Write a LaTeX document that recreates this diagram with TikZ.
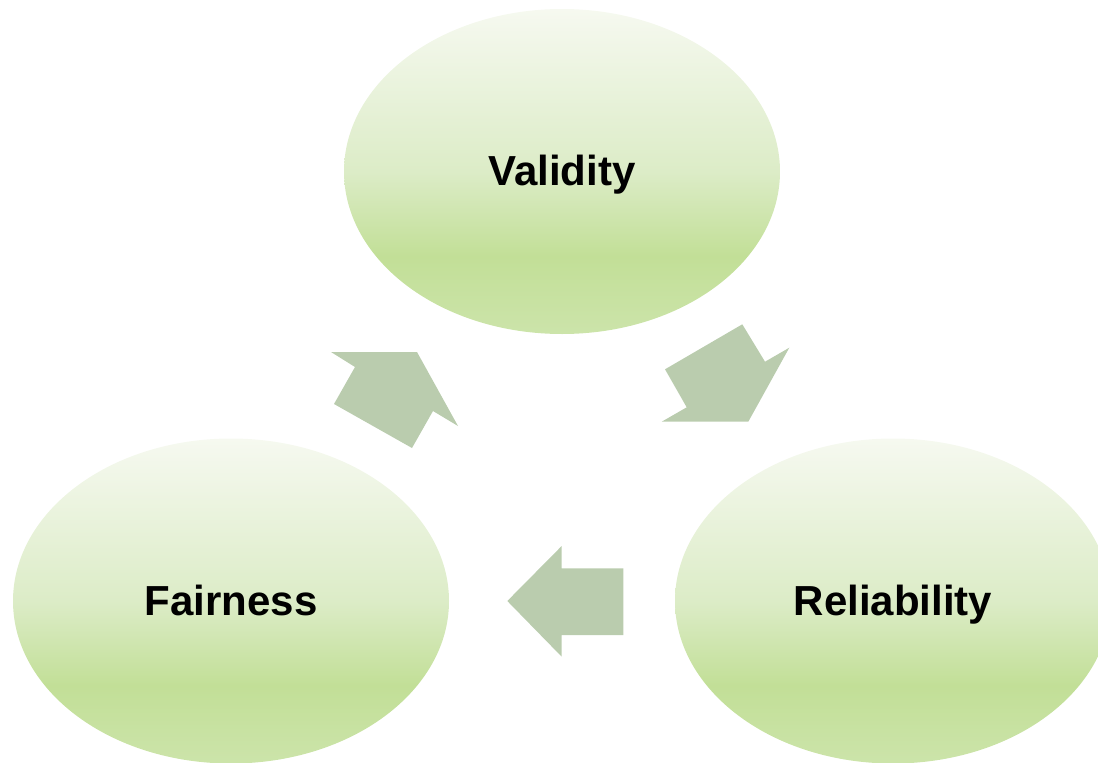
\documentclass[tikz,border=0pt]{standalone}
\usepackage{fontspec}
\setmainfont{Liberation Sans}
\usetikzlibrary{shapes.geometric}
\definecolor{etop}{RGB}{246,249,240}
\definecolor{emid}{RGB}{220,236,199}
\definecolor{edark}{RGB}{194,223,151}
\definecolor{ebot}{RGB}{204,228,170}
\definecolor{arrowfill}{RGB}{186,204,174}
\pgfdeclareverticalshading{ovalshade}{100bp}{color(0bp)=(ebot); color(25bp)=(ebot); color(37bp)=(edark); color(50bp)=(emid); color(75bp)=(etop); color(100bp)=(etop)}
\begin{document}
\begin{tikzpicture}[x=1pt,y=-1pt,
  oval/.style={ellipse, minimum width=436pt, minimum height=325pt, inner sep=0pt,
    shading=ovalshade, font=\bfseries\fontsize{42}{50}\selectfont,
    text height=28pt, text depth=0pt},
  blockarrow/.style={fill=arrowfill, draw=none}]
\useasboundingbox (0,0) rectangle (1098,763);
\node[oval] (validity) at (562,171.5) {Validity};
\node[oval] (fairness) at (231,601) {Fairness};
\node[oval] (reliability) at (893,601) {Reliability};
% arrow validity -> reliability
\fill[blockarrow] (665,369.3) -- (742.3,324.3) -- (765,361.7) -- (789.3,347.7) -- (748.3,421.7) -- (661.7,421.7) -- (686.7,407.3) -- cycle;
% arrow reliability -> fairness
\fill[blockarrow] (507.3,601) -- (561.7,546) -- (561.7,568.3) -- (623.3,568.3) -- (623.3,635) -- (561.7,635) -- (561.7,656.7) -- cycle;
% arrow fairness -> validity
\fill[blockarrow] (331,352) -- (417,352) -- (458,426) -- (433,411) -- (412,448) -- (334,404) -- (355,367) -- cycle;
\end{tikzpicture}
\end{document}
